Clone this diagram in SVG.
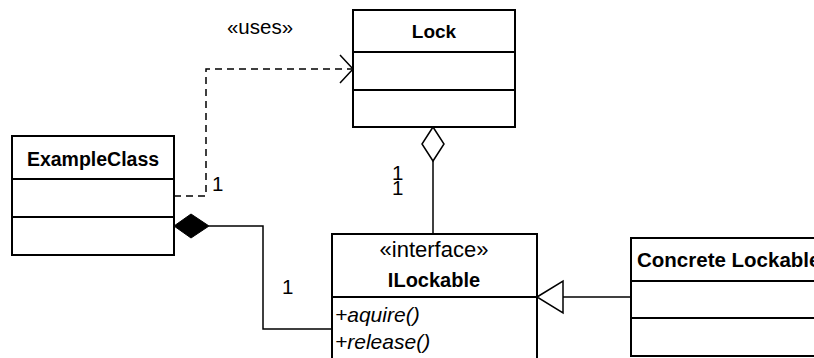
<svg xmlns="http://www.w3.org/2000/svg" width="814" height="358" viewBox="0 0 814 358">
<style>
.box{fill:#fff;stroke:#000;stroke-width:2}
.div{stroke:#000;stroke-width:2}
.t{font-family:"Liberation Sans",Arial,sans-serif;font-size:20.5px;fill:#000}
.b{font-weight:bold}
.i{font-style:italic;font-size:21px}
.c{text-anchor:middle}
.ln{fill:none;stroke:#000;stroke-width:1.5}
.dash{stroke-dasharray:7,5}
</style>
<rect width="814" height="358" fill="#fff"/>
<g id="connectors">
  <polyline class="ln dash" points="174,196 206,196 206,69 352,69"/>
  <polyline class="ln" points="340,55 353,69 340,83"/>
  <polygon points="433,127 444,144 433,161 422,144" fill="#fff" stroke="#000" stroke-width="1.5"/>
  <line class="ln" x1="433" y1="161" x2="433" y2="234"/>
  <polygon points="174,226 191,214 209,226 191,238" fill="#000" stroke="#000" stroke-width="1"/>
  <polyline class="ln" points="209,226 263,226 263,329 332,329"/>
  <line class="ln" x1="563" y1="297" x2="631" y2="297"/>
  <polygon points="537,297 563,281 563,313" fill="#fff" stroke="#000" stroke-width="1.5"/>
  <text class="t c" x="260" y="34">«uses»</text>
  <text class="t" x="212" y="191">1</text>
  <text class="t" x="392" y="180">1</text>
  <text class="t" x="392" y="195">1</text>
  <text class="t" x="282" y="294">1</text>
</g>
<g id="Lock">
  <rect class="box" x="353" y="10" width="162" height="117"/>
  <line class="div" x1="353" y1="52" x2="515" y2="52"/>
  <line class="div" x1="353" y1="90" x2="515" y2="90"/>
  <text class="t b c" x="434" y="38" style="font-size:19px">Lock</text>
</g>
<g id="ExampleClass">
  <rect class="box" x="12" y="136" width="162" height="119"/>
  <line class="div" x1="12" y1="179" x2="174" y2="179"/>
  <line class="div" x1="12" y1="217" x2="174" y2="217"/>
  <text class="t b c" x="93" y="166" style="font-size:19.5px">ExampleClass</text>
</g>
<g id="ILockable">
  <rect class="box" x="332" y="234" width="205" height="130"/>
  <line class="div" x1="332" y1="297" x2="537" y2="297"/>
  <text class="t c" x="434" y="257" style="font-size:22px">«interface»</text>
  <text class="t b c" x="434" y="287" style="font-size:20px">ILockable</text>
  <text class="t i" x="335" y="322">+aquire()</text>
  <text class="t i" x="335" y="349">+release()</text>
</g>
<g id="ConcreteLockable">
  <rect class="box" x="631" y="238" width="200" height="118"/>
  <line class="div" x1="631" y1="281" x2="831" y2="281"/>
  <line class="div" x1="631" y1="318" x2="831" y2="318"/>
  <text class="t b" x="637" y="267">Concrete Lockable</text>
</g>
</svg>
